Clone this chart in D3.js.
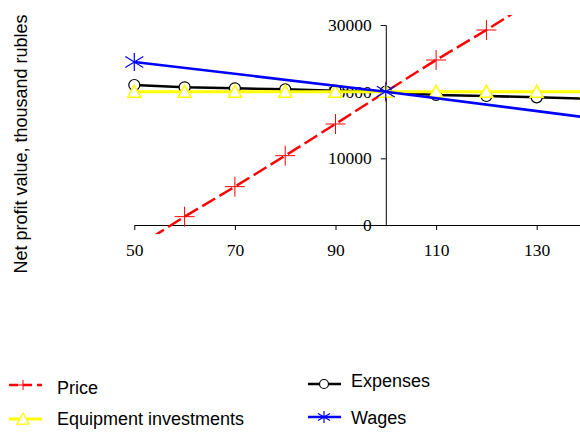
<!DOCTYPE html>
<html><head><meta charset="utf-8">
<script src="https://cdn.jsdelivr.net/npm/d3@7"></script>
<style>body{margin:0;background:#fff}svg{display:block}</style>
</head><body>
<svg id="c" width="580" height="432"></svg>
<script>
const priceX = [50,60,70,80,90,100,110,120,130,140];
const priceY = [-3500,1250,5750,10400,15150,20000,24750,29250,34000,38700];
const expX = [50,60,70,80,90,100,110,120,130,140];
const expY = [21000,20650,20500,20350,20150,20000,19500,19350,19150,18950];
const equipX = [50,60,70,80,90,100,110,120,130,140];
const equipY = [20000,20000,20000,20000,20000,20000,20000,20000,20000,20000];
const wageX = [50,100,150];
const wageY = [24450,20000,15150];
const xTicks = [50,70,90,110,130];
const yTicks = [0,10000,20000,30000];
const yLabel = "Net profit value, thousand rubles";
const legendNames = ["Price","Equipment investments","Expenses","Wages"];

const svg = d3.select("#c");
const x = d3.scaleLinear().domain([50,140]).range([134.3,587]);
const y = d3.scaleLinear().domain([0,30000]).range([225,25]);

svg.append("defs").append("clipPath").attr("id","clip")
  .append("rect").attr("x",100).attr("y",15).attr("width",480).attr("height",219);

const serif = "'Liberation Serif','Times New Roman',serif";
const sans = "'Liberation Sans',Arial,sans-serif";

// axes
const xAxis = svg.append("g").attr("transform","translate(0,225)")
  .call(d3.axisBottom(x).tickValues(xTicks).tickSize(5).tickSizeOuter(0).tickPadding(14));
xAxis.selectAll("text").attr("font-family",serif).attr("font-size","17.5px").attr("fill","#000");
const yAxis = svg.append("g").attr("transform",`translate(${x(100)},0)`)
  .call(d3.axisLeft(y).tickValues(yTicks).tickSize(5).tickSizeOuter(5).tickPadding(9).tickFormat(d3.format("d")));
yAxis.selectAll("text").attr("font-family",serif).attr("font-size","17.5px").attr("fill","#000");
svg.selectAll(".domain, .tick line").attr("stroke","#000");

const plot = svg.append("g").attr("clip-path","url(#clip)");
const line = d3.line().x(d=>x(d[0])).y(d=>y(d[1]));
const zip = (a,b)=>a.map((v,i)=>[v,b[i]]);

const plusPath = s => `M${-s},0H${s}M0,${-s}V${s}`;
const starPath = s => `M0,${-s}V${s}M${-s},${-s*0.6}L${s},${s*0.6}M${-s},${s*0.6}L${s},${-s*0.6}`;
const triPath = s => `M0,${-s}L${s},${s*0.85}L${-s},${s*0.85}Z`;

// Price
const pd = zip(priceX,priceY);
plot.append("path").attr("d",line(pd)).attr("fill","none").attr("stroke","#ff0000").attr("stroke-width",2.5).attr("stroke-dasharray","15,5");
plot.selectAll(".pm").data(pd).join("path").attr("d",plusPath(10)).attr("transform",d=>`translate(${x(d[0])},${y(d[1])})`).attr("stroke","#ff0000").attr("stroke-width",1).attr("fill","none");

// Expenses
const ed = zip(expX,expY);
plot.append("path").attr("d",line(ed)).attr("fill","none").attr("stroke","#000").attr("stroke-width",2.5);
plot.selectAll(".em").data(ed).join("circle").attr("cx",d=>x(d[0])).attr("cy",d=>y(d[1])).attr("r",5.5).attr("fill","#fff").attr("stroke","#000").attr("stroke-width",1.2);

// Equipment
const qd = zip(equipX,equipY);
plot.append("path").attr("d",line(qd)).attr("fill","none").attr("stroke","#ffff00").attr("stroke-width",3);
plot.selectAll(".qm").data(qd).join("path").attr("d",triPath(6.5)).attr("transform",d=>`translate(${x(d[0])},${y(d[1])})`).attr("fill","#fff").attr("stroke","#ffff00").attr("stroke-width",1.5);

// Wages
const wd = zip(wageX,wageY);
plot.append("path").attr("d",line(wd)).attr("fill","none").attr("stroke","#0000ff").attr("stroke-width",2.5);
plot.selectAll(".wm").data(wd).join("path").attr("d",starPath(9)).attr("transform",d=>`translate(${x(d[0])},${y(d[1])})`).attr("fill","none").attr("stroke","#0000ff").attr("stroke-width",1.2);

// y label
svg.append("text").attr("transform","translate(27,144) rotate(-90)").attr("text-anchor","middle")
  .attr("font-family",sans).attr("font-size","18px").attr("fill","#000").text(yLabel);

// legend
const lg = svg.append("g").attr("font-family",sans).attr("font-size","18px").attr("fill","#000");
// Price
lg.append("path").attr("d","M9,385H42").attr("stroke","#ff0000").attr("stroke-width",2.5).attr("stroke-dasharray","9,5");
lg.append("path").attr("d",plusPath(5)).attr("transform","translate(23,385)").attr("stroke","#ff0000").attr("stroke-width",1).attr("fill","none");
lg.append("text").attr("x",57).attr("y",394).text(legendNames[0]);
// Equipment
lg.append("path").attr("d","M9,419H42").attr("stroke","#ffff00").attr("stroke-width",3);
lg.append("path").attr("d",triPath(6)).attr("transform","translate(23,419)").attr("fill","#fff").attr("stroke","#ffff00").attr("stroke-width",1.2);
lg.append("text").attr("x",57).attr("y",425).text(legendNames[1]);
// Expenses
lg.append("path").attr("d","M308,384H341").attr("stroke","#000").attr("stroke-width",2.5);
lg.append("circle").attr("cx",324).attr("cy",384).attr("r",4.5).attr("fill","#fff").attr("stroke","#000").attr("stroke-width",1.2);
lg.append("text").attr("x",351).attr("y",387).text(legendNames[2]);
// Wages
lg.append("path").attr("d","M308,417H341").attr("stroke","#0000ff").attr("stroke-width",2.5);
lg.append("path").attr("d",starPath(6)).attr("transform","translate(324,417)").attr("fill","none").attr("stroke","#0000ff").attr("stroke-width",1.2);
lg.append("text").attr("x",351).attr("y",424).text(legendNames[3]);
</script>
</body></html>
